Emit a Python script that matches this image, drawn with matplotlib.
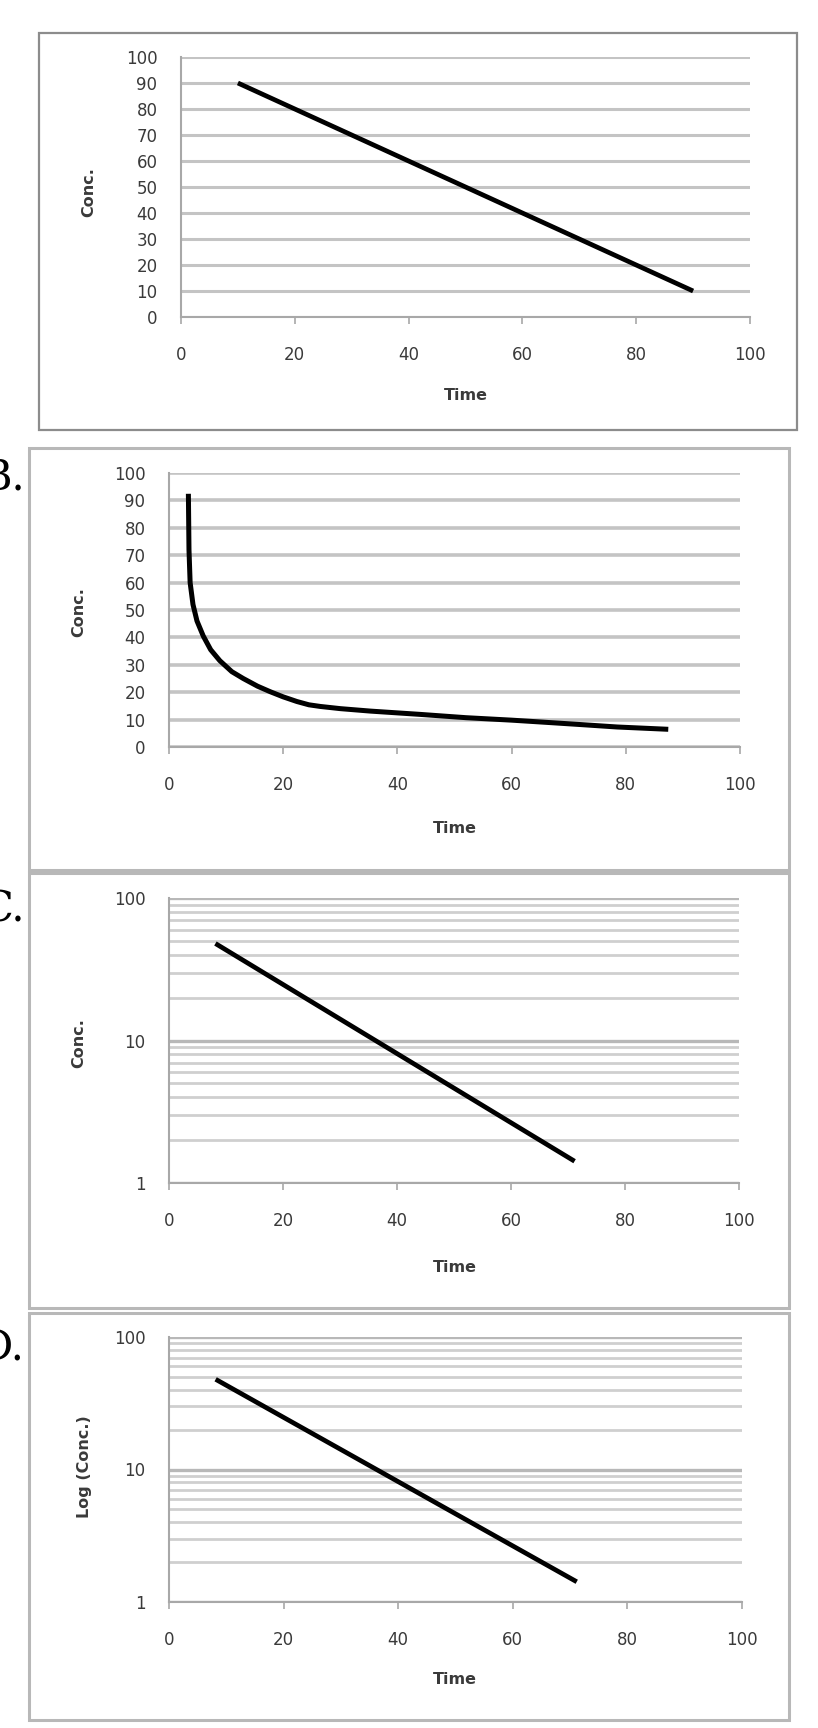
import numpy as np
import matplotlib
matplotlib.use("Agg")
import matplotlib.pyplot as plt
from matplotlib.patches import Rectangle
from matplotlib.ticker import LogLocator, NullFormatter, FixedLocator

#---data
time_a = [10, 90]
conc_a = [90, 10]

time_b = [3.4, 3.5, 3.7, 4.2, 4.9, 6.0, 7.3, 8.9, 11, 13, 15.5, 17.7, 20, 22.4, 24.5,
          26.5, 30, 35.3, 44, 52, 60, 66.8, 72, 78.5, 87]
conc_b = [91.5, 72, 60, 52, 46, 40.5, 35.5, 31.5, 27.5, 25, 22.2, 20.2, 18.3, 16.6, 15.4,
          14.8, 14, 13.1, 11.9, 10.7, 9.8, 8.9, 8.2, 7.3, 6.5]

time_log = [8.5, 70.8]
conc_log = [47, 1.45]

x_ticks = [0, 20, 40, 60, 80, 100]
y_ticks_lin = [0, 10, 20, 30, 40, 50, 60, 70, 80, 90, 100]
y_ticks_log = [1, 10, 100]

panel_labels = ["", "B.", "C.", "D."]
y_labels = ["Conc.", "Conc.", "Conc.", "Log (Conc.)"]

W, H = 818, 1728
fig = plt.figure(figsize=(W / 100, H / 100), dpi=100)
fig.patch.set_facecolor("white")

GRID = "#c4c4c4"
TXT = "#3a3a3a"


def fx(px):
    return px / W


def fy(py):
    return 1 - py / H


def make_axes(x0, x1, ytop, ybot):
    return fig.add_axes([fx(x0), fy(ybot), fx(x1 - x0), (ybot - ytop) / H])


def style_axes(ax):
    ax.set_xlim(0, 100)
    ax.set_xticks(x_ticks)
    for s in ["top", "right"]:
        ax.spines[s].set_visible(False)
    for s in ["left", "bottom"]:
        ax.spines[s].set_color("#a8a8a8")
        ax.spines[s].set_linewidth(1.5)
    ax.tick_params(axis="x", length=5, width=1.2, color="#a8a8a8", pad=16,
                   labelsize=12, labelcolor=TXT)
    ax.tick_params(axis="y", which="both", length=0, pad=17, labelsize=12, labelcolor=TXT)
    ax.set_axisbelow(True)


def box(x0, y0, x1, y1, color, lw):
    fig.patches.append(Rectangle((fx(x0), fy(y1)), fx(x1 - x0), (y1 - y0) / H,
                                 transform=fig.transFigure, fill=False,
                                 edgecolor=color, linewidth=lw))


# panel frames
box(39, 33, 797, 430, "#8c8c8c", 1.6)
box(29, 448, 789, 870, "#b8b8b8", 2.2)
box(29, 873, 789, 1308, "#b8b8b8", 2.2)
box(29, 1313, 789, 1720, "#b8b8b8", 2.2)

# ----- A : linear
axA = make_axes(181, 750, 57, 317)
style_axes(axA)
axA.set_ylim(0, 100)
axA.set_yticks(y_ticks_lin)
axA.yaxis.grid(True, color=GRID, linewidth=2.2)
axA.plot(time_a, conc_a, color="black", linewidth=3.4, solid_capstyle="butt")

# ----- B : linear, curve
axB = make_axes(169, 740, 473, 747)
style_axes(axB)
axB.set_ylim(0, 100)
axB.set_yticks(y_ticks_lin)
axB.yaxis.grid(True, color=GRID, linewidth=2.6)
axB.plot(time_b, conc_b, color="black", linewidth=3.6, solid_joinstyle="round")

# ----- C and D : log scale
axC = make_axes(169, 739, 898, 1183)
axD = make_axes(169, 742, 1337, 1602)
for ax in [axC, axD]:
    style_axes(ax)
    ax.set_yscale("log")
    ax.set_ylim(1, 100)
    ax.yaxis.set_major_locator(FixedLocator(y_ticks_log))
    ax.set_yticklabels([str(v) for v in y_ticks_log])
    ax.yaxis.set_minor_locator(LogLocator(base=10, subs=np.arange(2, 10)))
    ax.yaxis.set_minor_formatter(NullFormatter())
    ax.yaxis.grid(True, which="major", color="#b8b8b8", linewidth=2.4)
    ax.yaxis.grid(True, which="minor", color="#cfcfcf", linewidth=2.0)
    ax.plot(time_log, conc_log, color="black", linewidth=3.4)

# axis titles
ylab_pos = [(89, 192), (79, 612), (79, 1043), (84, 1467)]
xlab_pos = [(466, 395), (455, 828), (455, 1267), (455, 1680)]
for lab, (x, y) in zip(y_labels, ylab_pos):
    fig.text(fx(x), fy(y), lab, rotation=90, ha="center", va="center",
             fontsize=11.5, fontweight="bold", color=TXT)
for (x, y) in xlab_pos:
    fig.text(fx(x), fy(y), "Time", ha="center", va="center",
             fontsize=11.5, fontweight="bold", color=TXT)

# panel letters, cut off at the left edge like the scan
label_pos = [(0, 0), (25, 477), (25, 910), (25, 1348)]
for lab, (x, y) in zip(panel_labels, label_pos):
    if lab:
        fig.text(fx(x), fy(y), lab, ha="right", va="center", fontsize=30,
                 family="DejaVu Serif", color="black")

fig.savefig("out.png", dpi=100, facecolor="white")
